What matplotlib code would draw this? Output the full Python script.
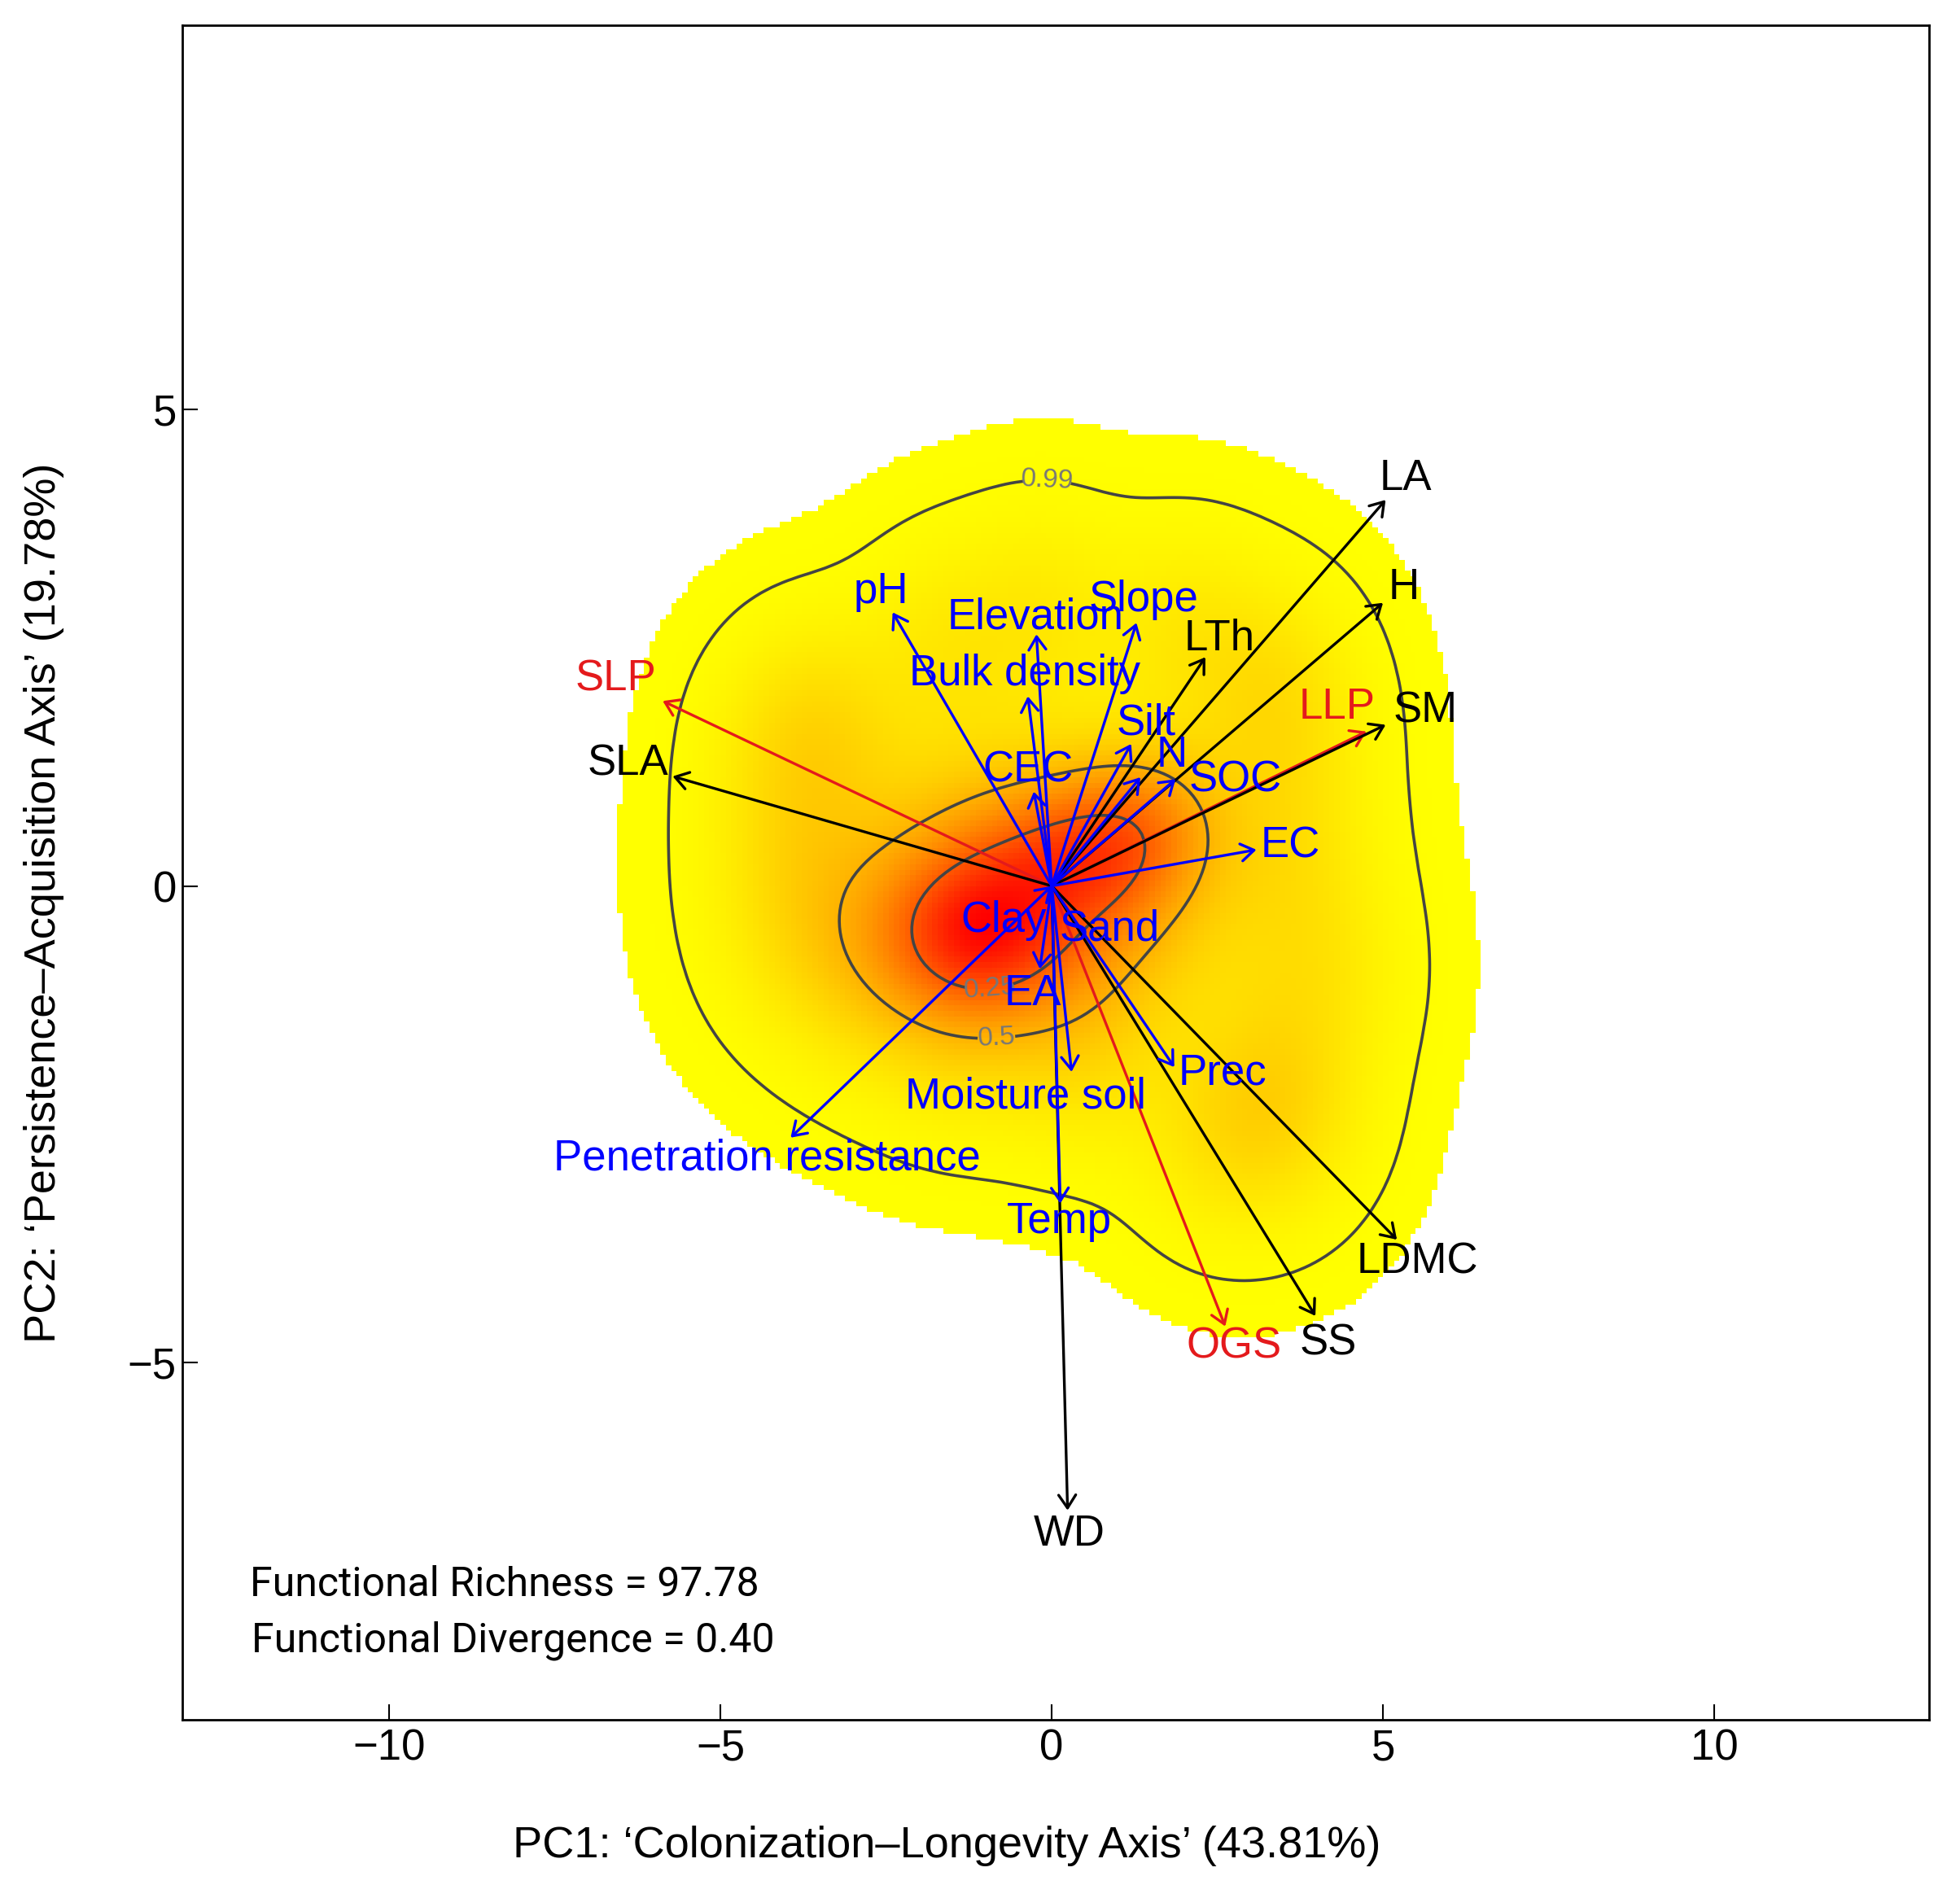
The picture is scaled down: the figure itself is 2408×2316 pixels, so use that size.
import numpy as np
import matplotlib
matplotlib.use("Agg")
import matplotlib.pyplot as plt
from matplotlib.colors import LinearSegmentedColormap
from matplotlib.patches import ArrowStyle

plt.rcParams['font.family'] = ['Liberation Sans', 'DejaVu Sans']

# ---------------- data ----------------
# trait vectors (black), strategy vectors (red) and environmental vectors (blue): arrow tips in PC space
trait_names = ["LA", "H", "SM", "LTh", "SLA", "LDMC", "SS", "WD"]
trait_x = [5.04, 5.00, 5.04, 2.32, -5.72, 5.21, 3.98, 0.24]
trait_y = [4.05, 2.97, 1.69, 2.40, 1.15, -3.71, -4.51, -6.55]
trait_lx = [5.34, 5.32, 5.64, 2.53, -6.39, 5.52, 4.17, 0.26]
trait_ly = [4.27, 3.13, 1.84, 2.59, 1.28, -3.94, -4.80, -6.80]

strat_names = ["SLP", "LLP", "OGS"]
strat_x = [-5.87, 4.75, 2.62]
strat_y = [1.94, 1.62, -4.62]
strat_lx = [-6.58, 4.30, 2.75]
strat_ly = [2.17, 1.87, -4.83]

env_names = ["pH", "Elevation", "Slope", "Bulk density", "Silt", "N", "SOC", "CEC",
             "EC", "Clay", "Sand", "EA", "Moisture soil", "Prec", "Temp",
             "Penetration resistance"]
env_x = [-2.40, -0.23, 1.28, -0.36, 1.20, 1.34, 1.87, -0.27,
         3.09, 0.0, 0.0, -0.18, 0.30, 1.85, 0.13, -3.94]
env_y = [2.87, 2.64, 2.76, 1.99, 1.49, 1.14, 1.12, 0.99,
         0.38, 0.0, 0.0, -0.87, -1.95, -1.90, -3.33, -2.64]
env_lx = [-2.57, -0.25, 1.39, -0.40, 1.42, 1.81, 2.77, -0.36,
          3.60, -0.72, 0.87, -0.28, -0.40, 2.58, 0.11, -4.30]
env_ly = [3.09, 2.82, 3.00, 2.22, 1.71, 1.37, 1.11, 1.21,
          0.42, -0.36, -0.45, -1.13, -2.21, -1.96, -3.52, -2.86]

# kernel components describing the trait probability density
kde_x = [-1.15, -0.4, 0.6, 1.4,
         -0.1, 2.0, 3.3, 3.5, 3.6, 4.0, 3.4, 3.4, 2.5, 0.5, -1.4, -2.7, -3.7, -3.85, -3.85, -3.4, -1.6]
kde_y = [-0.5, -0.15, 0.3, 0.8,
         2.85, 2.65, 2.2, 1.5, 0.3, -0.9, -2.0, -2.5, -2.6, -1.75, -1.45, -0.95, -0.5, 0.5, 1.5, 1.7, 2.5]
kde_w = [0.11, 0.40, 0.08, 0.04] + [0.0218] * 17
kde_sx = [0.9, 1.7, 1.0, 0.8] + [0.85] * 17
kde_sy = [0.55, 0.95, 0.5, 0.5] + [0.72] * 17

contour_probs = [0.99, 0.5, 0.25]
fr_text = "Functional Richness = 97.78"
fd_text = "Functional Divergence = 0.40"

# ---------------- figure ----------------
fig = plt.figure(figsize=(24.08, 23.16), dpi=100)
ax = fig.add_axes([0.0930, 0.0877, 0.9842 - 0.0930, 0.9867 - 0.0877])

# density grid
ex = np.linspace(-8.2, 8.2, 201)
ey = np.linspace(-5.7, 5.7, 201)
cx = (ex[:-1] + ex[1:]) / 2
cy = (ey[:-1] + ey[1:]) / 2
GX, GY = np.meshgrid(cx, cy)
D = np.zeros_like(GX)
for x0, y0, w, sx, sy in zip(kde_x, kde_y, kde_w, kde_sx, kde_sy):
    D += w * np.exp(-((GX - x0) ** 2 / (2 * sx ** 2) + (GY - y0) ** 2 / (2 * sy ** 2))) / (2 * np.pi * sx * sy)
D /= D.sum()

ds = np.sort(D.ravel())[::-1]
cum = np.cumsum(ds)


def level_for(p):
    return ds[min(np.searchsorted(cum, p), len(ds) - 1)]


edge_level = level_for(0.999)
Dm = np.ma.masked_less(D, edge_level)
cmap = LinearSegmentedColormap.from_list("yr", ["#FFFF00", "#FF0000"])
ax.pcolormesh(ex, ey, Dm, cmap=cmap, vmin=edge_level, vmax=D.max(), shading="flat", zorder=0)

levels = sorted(level_for(p) for p in contour_probs)
labels = {}
for p in contour_probs:
    labels[level_for(p)] = f"{p:g}"
cs = ax.contour(cx, cy, D, levels=levels, colors="#444444", linewidths=2.6, zorder=1)
ax.clabel(cs, fmt=labels, fontsize=24, colors="#777777", inline=True, inline_spacing=14,
          manual=[(-0.06, 4.30), (-0.82, -1.77), (-0.90, -1.28)])

red = "#E41A1C"
style = ArrowStyle("->", head_length=0.5, head_width=0.33)
style2 = ArrowStyle("<->", head_length=0.5, head_width=0.33)


def draw(xs, ys, col, z):
    for x1, y1 in zip(xs, ys):
        if abs(x1) < 1e-6 and abs(y1) < 1e-6:
            continue
        ax.annotate("", xy=(x1, y1), xytext=(0, 0),
                    arrowprops=dict(arrowstyle=style, color=col, lw=2.4,
                                    shrinkA=0, shrinkB=0, mutation_scale=23),
                    zorder=z)


draw(strat_x, strat_y, red, 2)
draw(trait_x, trait_y, "black", 3)
for n, x1, y1 in zip(env_names, env_x, env_y):
    if abs(x1) < 1e-6 and abs(y1) < 1e-6:
        continue
    st = style2 if n == "Penetration resistance" else style
    ax.annotate("", xy=(x1, y1), xytext=(0, 0),
                arrowprops=dict(arrowstyle=st, color="#0000FF", lw=2.4,
                                shrinkA=0, shrinkB=0, mutation_scale=23),
                zorder=4)

fs = 38
for n, x, y in zip(trait_names, trait_lx, trait_ly):
    ax.text(x, y, n, color="black", fontsize=fs, ha="center", va="center", zorder=5)
for n, x, y in zip(strat_names, strat_lx, strat_ly):
    ax.text(x, y, n, color=red, fontsize=fs, ha="center", va="center", zorder=5)
for n, x, y in zip(env_names, env_lx, env_ly):
    ax.text(x, y, n, color="#0000FF", fontsize=fs, ha="center", va="center", zorder=5)

ax.set_xlim(-13.12, 13.24)
ax.set_ylim(-8.745, 9.03)
ax.set_xticks([-10, -5, 0, 5, 10])
ax.set_yticks([-5, 0, 5])
ax.set_xticklabels(["\u221210", "\u22125", "0", "5", "10"])
ax.set_yticklabels(["\u22125", "0", "5"])
ax.tick_params(direction="in", length=14, width=1.5, labelsize=38)
ax.tick_params(axis="x", pad=8)
ax.tick_params(axis="y", pad=5)
for s in ax.spines.values():
    s.set_linewidth(2.0)

fig.text(0.483, 0.0147, "PC1: \u2018Colonization\u2013Longevity Axis\u2019 (43.81%)",
         fontsize=39, ha="center", va="baseline")
fig.text(0.0224, 0.521, "PC2: \u2018Persistence\u2013Acquisition Axis\u2019 (19.78%)",
         fontsize=39, ha="center", va="center", rotation=90)

fig.text(307 / 2408, 1 - 1961 / 2316, fr_text, fontsize=36, family="Roboto",
         ha="left", va="baseline")
fig.text(309 / 2408, 1 - 2030 / 2316, fd_text, fontsize=36, family="Roboto",
         ha="left", va="baseline")

fig.savefig("out.png", dpi=100)
